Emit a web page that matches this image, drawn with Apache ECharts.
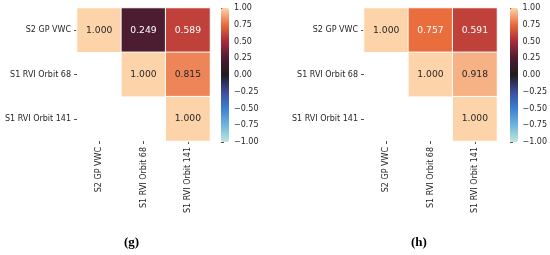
<!DOCTYPE html>
<html><head><meta charset="utf-8">
<script src="https://cdn.jsdelivr.net/npm/echarts@6/dist/echarts.min.js"></script>
<style>html,body{margin:0;padding:0;background:#fff}#c{width:550px;height:255px}</style>
</head><body><div id="c"></div>
<script>
const categories = ['S2 GP VWC', 'S1 RVI Orbit 68', 'S1 RVI Orbit 141'];
const corrG = [[1.000, 0.249, 0.589], [null, 1.000, 0.815], [null, null, 1.000]];
const corrH = [[1.000, 0.757, 0.591], [null, 1.000, 0.918], [null, null, 1.000]];
const colorbarMin = -1, colorbarMax = 1, colorbarStep = 0.25;
const captions = ['(g)', '(h)'];
const icefire = ['#bde7dc', '#71b5dc', '#3b7fd4', '#3d4b9a', '#1f1d20', '#4c1d30', '#a9293a', '#e96a3b', '#fdd3a9'];

const FONT = 'DejaVu Sans';
const TXT = '#262626';

function cells(m) {
  const out = [];
  m.forEach((row, i) => row.forEach((v, j) => {
    if (v !== null) out.push({value: [j, i, v], label: {color: v < 0.8 ? '#ffffff' : TXT}});
  }));
  return out;
}

const panels = [
  {data: corrG, left: 77, cbLeft: 221, capLeft: 119},
  {data: corrH, left: 364, cbLeft: 510, capLeft: 406}
];

const grid = [], xAxis = [], yAxis = [], series = [], visualMap = [], title = [];
panels.forEach((p, k) => {
  grid.push({left: p.left, top: 8, width: 133, height: 133});
  grid.push({left: p.cbLeft, top: 8, width: 8, height: 134});
  const gi = k * 2;
  const tick = {show: true, alignWithLabel: true, length: 3, lineStyle: {color: TXT, width: 0.8}};
  xAxis.push({type: 'category', gridIndex: gi, data: categories,
    axisLine: {show: false}, splitLine: {show: false}, axisTick: tick,
    axisLabel: {rotate: 90, fontFamily: FONT, fontSize: 8, color: TXT, margin: 6}});
  yAxis.push({type: 'category', gridIndex: gi, data: categories, inverse: true,
    axisLine: {show: false}, splitLine: {show: false}, axisTick: tick,
    axisLabel: {fontFamily: FONT, fontSize: 8, color: TXT, margin: 6}});
  xAxis.push({type: 'value', gridIndex: gi + 1, show: false, min: 0, max: 1});
  yAxis.push({type: 'value', gridIndex: gi + 1, position: 'right', min: colorbarMin, max: colorbarMax, interval: colorbarStep,
    axisLine: {show: false}, splitLine: {show: false},
    axisTick: {show: true, length: 3, lineStyle: {color: TXT, width: 0.8}},
    axisLabel: {fontFamily: FONT, fontSize: 8, color: TXT, margin: 5,
      formatter: v => (v < 0 ? '\u2212' : '') + Math.abs(v).toFixed(2)}});
  series.push({type: 'heatmap', xAxisIndex: gi, yAxisIndex: gi, data: cells(p.data),
    itemStyle: {borderColor: '#ffffff', borderWidth: 1},
    label: {show: true, fontFamily: FONT, fontSize: 9.2, formatter: o => o.value[2].toFixed(3)},
    emphasis: {disabled: true}});
  series.push({type: 'scatter', xAxisIndex: gi + 1, yAxisIndex: gi + 1, data: []});
  visualMap.push({type: 'continuous', min: colorbarMin, max: colorbarMax, seriesIndex: k * 2,
    left: p.cbLeft, top: 8, itemWidth: 8, itemHeight: 134, padding: 0, text: null,
    calculable: false, showLabel: false, inRange: {color: icefire}});
  title.push({text: captions[k], left: p.capLeft, top: 231,
    textStyle: {fontFamily: 'Liberation Serif', fontWeight: 'bold', fontSize: 13, color: '#000'}});
});

const chart = echarts.init(document.getElementById('c'), null, {renderer: 'canvas'});
chart.setOption({animation: false, backgroundColor: '#fff', title, grid, xAxis, yAxis, series, visualMap});
</script></body></html>
